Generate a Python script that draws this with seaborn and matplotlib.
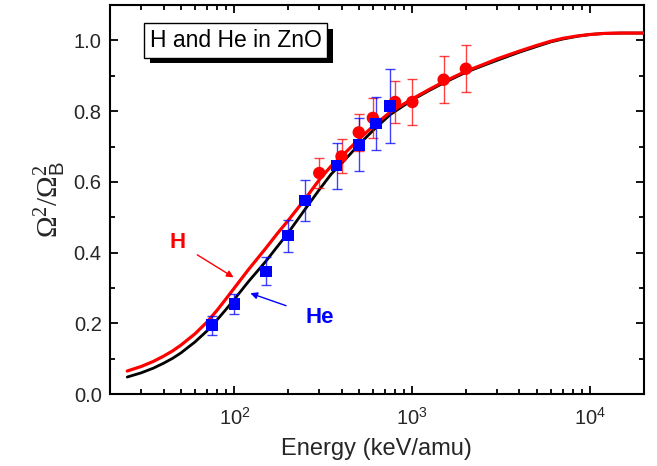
import matplotlib
matplotlib.use("Agg")
import matplotlib.pyplot as plt
import matplotlib.patheffects as pe
from matplotlib.ticker import LogLocator, MultipleLocator, NullFormatter
import seaborn as sns

# theory curves
energy_curve = [25, 30, 35, 40, 45, 50, 60, 70, 80, 90, 100, 120, 150, 175, 200,
                250, 300, 350, 400, 500, 600, 750, 1000, 1250, 1500, 2000, 2500,
                3000, 4000, 5000, 6000, 7000, 8500, 10000, 12000, 15000, 20000]
h_curve = [0.065, 0.078, 0.092, 0.107, 0.122, 0.138, 0.170, 0.203, 0.237, 0.270,
           0.300, 0.352, 0.412, 0.455, 0.490, 0.552, 0.606, 0.645, 0.672, 0.720,
           0.757, 0.797, 0.835, 0.862, 0.883, 0.913, 0.932, 0.948, 0.970, 0.986,
           0.998, 1.006, 1.013, 1.017, 1.020, 1.021, 1.021]
he_curve = [0.048, 0.060, 0.073, 0.087, 0.101, 0.116, 0.147, 0.178, 0.210, 0.240,
            0.268, 0.318, 0.375, 0.418, 0.455, 0.523, 0.578, 0.622, 0.652, 0.705,
            0.745, 0.790, 0.832, 0.859, 0.880, 0.910, 0.929, 0.944, 0.967, 0.983,
            0.996, 1.004, 1.012, 1.017, 1.020, 1.021, 1.021]

# measured points
he_energy = [75, 100, 150, 200, 250, 375, 500, 625, 750]
he_value = [0.195, 0.255, 0.347, 0.448, 0.547, 0.646, 0.705, 0.765, 0.815]
he_err = [0.027, 0.028, 0.040, 0.045, 0.057, 0.065, 0.075, 0.076, 0.105]

h_energy = [300, 400, 500, 600, 800, 1000, 1500, 2000]
h_value = [0.625, 0.672, 0.740, 0.781, 0.826, 0.826, 0.889, 0.920]
h_err = [0.042, 0.048, 0.053, 0.056, 0.060, 0.065, 0.066, 0.067]

sns.set_theme(style="ticks")
plt.rcParams['font.family'] = ['Liberation Sans', 'DejaVu Sans']
plt.rcParams['mathtext.fontset'] = 'custom'
plt.rcParams['mathtext.rm'] = 'Liberation Serif'
plt.rcParams['mathtext.sf'] = 'Liberation Sans'
plt.rcParams['mathtext.it'] = 'Liberation Serif:italic'

fig = plt.figure(figsize=(6.57, 4.66), dpi=100)
ax = fig.add_axes([0.1674, 0.1545, 0.8126, 0.8345])

sns.lineplot(x=energy_curve, y=he_curve, ax=ax, color='black', lw=2.0, zorder=2)
sns.lineplot(x=energy_curve, y=h_curve, ax=ax, color='#ff0000', lw=2.3, zorder=3)

ax.errorbar(h_energy, h_value, yerr=h_err, fmt='none', ecolor='#ff0000',
            elinewidth=1.0, capsize=3.5, capthick=1.0, alpha=0.75, zorder=4)
ax.errorbar(he_energy, he_value, yerr=he_err, fmt='none', ecolor='#0000ff',
            elinewidth=1.0, capsize=3.5, capthick=1.0, alpha=0.75, zorder=4)
sns.scatterplot(x=h_energy, y=h_value, ax=ax, color='#ff0000', marker='o',
                s=80, edgecolor='none', zorder=5)
sns.scatterplot(x=he_energy, y=he_value, ax=ax, color='#0000ff', marker='s',
                s=70, edgecolor='none', zorder=6)

ax.set_xscale('log')
ax.set_xlim(20, 20000)
ax.set_ylim(0, 1.1)
ax.xaxis.set_major_locator(LogLocator(base=10, numticks=10))
ax.xaxis.set_minor_locator(LogLocator(base=10, subs=range(2, 10), numticks=20))
ax.xaxis.set_minor_formatter(NullFormatter())
ax.yaxis.set_major_locator(MultipleLocator(0.2))
ax.yaxis.set_minor_locator(MultipleLocator(0.1))
ax.yaxis.set_major_formatter(plt.FormatStrFormatter('%.1f'))

for s in ax.spines.values():
    s.set_linewidth(1.5)
    s.set_color('black')
ax.tick_params(which='both', direction='in', top=True, right=True,
               color='black', width=1.3, labelsize=14.5)
ax.tick_params(axis='x', pad=9)
ax.tick_params(axis='y', pad=6)
ax.tick_params(which='major', length=6)
ax.tick_params(which='minor', length=3.5)

ax.set_xlabel('Energy (keV/amu)', fontsize=17, labelpad=7)
ax.set_ylabel(r'$\mathrm{\Omega}^2/\mathrm{\Omega}_{\mathsf{B}}^2$', fontsize=21, labelpad=4)

# label box with a solid drop shadow
box = ax.text(33.5, 1.0, 'H and He in ZnO', fontsize=16.5, color='black',
              ha='left', va='center', zorder=8,
              bbox=dict(boxstyle='square,pad=0.25', fc='white', ec='black', lw=1))
box.get_bbox_patch().set_path_effects([
    pe.SimplePatchShadow(offset=(4, -4), shadow_rgbFace='black', alpha=1.0),
    pe.Normal()])

ax.annotate('H', xy=(99, 0.33), xytext=(48, 0.428), color='#ff0000',
            fontsize=16, fontweight='bold', ha='center', va='center',
            arrowprops=dict(arrowstyle='-|>', color='#ff0000', lw=1.0,
                            mutation_scale=10, shrinkA=7, shrinkB=0))
ax.annotate('He', xy=(123, 0.285), xytext=(300, 0.217), color='#0000ff',
            fontsize=16, fontweight='bold', ha='center', va='center',
            arrowprops=dict(arrowstyle='-|>', color='#0000ff', lw=1.0,
                            mutation_scale=10, shrinkA=12, shrinkB=0))

fig.savefig('out.png', dpi=100)
